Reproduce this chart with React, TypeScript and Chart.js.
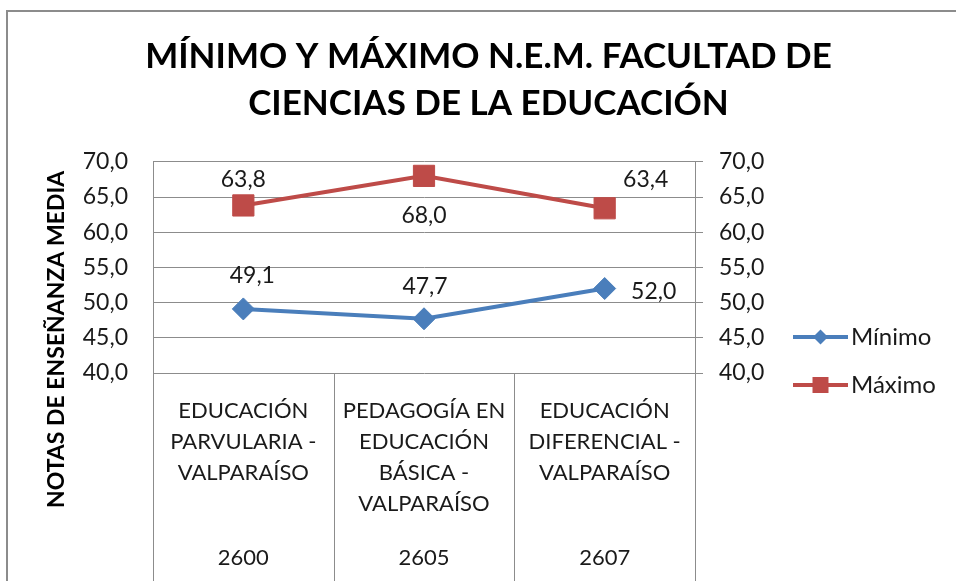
import React, { useEffect, useRef } from 'react';
import { Chart, registerables } from 'chart.js';

Chart.register(...registerables);

// ---- Data ----
const categories: string[][] = [
  ['EDUCACIÓN', 'PARVULARIA -', 'VALPARAÍSO'],
  ['PEDAGOGÍA EN', 'EDUCACIÓN', 'BÁSICA -', 'VALPARAÍSO'],
  ['EDUCACIÓN', 'DIFERENCIAL -', 'VALPARAÍSO'],
];
const codes: string[] = ['2600', '2605', '2607'];
const minimo: number[] = [49.1, 47.7, 52.0];
const maximo: number[] = [63.8, 68.0, 63.4];
const seriesNames: string[] = ['Mínimo', 'Máximo'];
const yMin = 40;
const yMax = 70;
const yStep = 5;
const titleLines: string[] = ['MÍNIMO Y MÁXIMO N.E.M. FACULTAD DE', 'CIENCIAS DE LA EDUCACIÓN'];
const yAxisTitle = 'NOTAS DE ENSEÑANZA MEDIA';

// label offsets (pixels) per point, kept apart from the data
const minLabelOffsets: number[][] = [[9, -33], [1, -32], [49, 3]];
const maxLabelOffsets: number[][] = [[0, -26], [0, 40], [41, -29]];

// ---- Styles ----
const FONT = 'Lato';
const BLUE = '#4a7ebb';
const RED = '#be4b48';
const GRID = '#8c8c8c';
const TEXT = '#1a1a1a';

const fmt = (v: number) => v.toFixed(1).replace('.', ',');

const borderPlugin = {
  id: 'outerBorder',
  beforeDraw(chart: any) {
    const { ctx, width, height } = chart;
    ctx.save();
    ctx.fillStyle = '#ffffff';
    ctx.fillRect(0, 0, width, height);
    ctx.strokeStyle = GRID;
    ctx.lineWidth = 2;
    ctx.strokeRect(7, 11, width + 20, height + 20);
    ctx.restore();
  },
};

const dividerPlugin = {
  id: 'dividers',
  afterDraw(chart: any) {
    const { ctx, chartArea, height } = chart;
    const xs = chart.scales.x;
    const n = categories.length;
    const half = (xs.getPixelForValue(1) - xs.getPixelForValue(0)) / 2;
    ctx.save();
    ctx.strokeStyle = GRID;
    ctx.lineWidth = 1;
    for (let i = 0; i <= n; i++) {
      const px = i < n ? xs.getPixelForValue(i) - half : xs.getPixelForValue(n - 1) + half;
      const x = Math.round(px) + 0.5;
      ctx.beginPath();
      ctx.moveTo(x, chartArea.bottom);
      ctx.lineTo(x, height);
      ctx.stroke();
    }
    ctx.restore();
  },
};

const yTitlePlugin = {
  id: 'yTitle',
  afterDraw(chart: any) {
    const { ctx, chartArea, height } = chart;
    ctx.save();
    ctx.translate(57, (chartArea.top + height) / 2 - 32);
    ctx.rotate(-Math.PI / 2);
    ctx.font = `bold 23px ${FONT}`;
    ctx.fillStyle = '#000';
    ctx.textAlign = 'center';
    ctx.textBaseline = 'middle';
    ctx.fillText(yAxisTitle, 0, 0);
    ctx.restore();
  },
};

const dataLabelPlugin = {
  id: 'dataLabels',
  afterDatasetsDraw(chart: any) {
    const { ctx } = chart;
    const offsets = [minLabelOffsets, maxLabelOffsets];
    ctx.save();
    ctx.font = `23px ${FONT}`;
    ctx.fillStyle = TEXT;
    ctx.textAlign = 'center';
    ctx.textBaseline = 'middle';
    chart.data.datasets.forEach((ds: any, di: number) => {
      const meta = chart.getDatasetMeta(di);
      meta.data.forEach((pt: any, i: number) => {
        const off = offsets[di][i];
        ctx.fillText(fmt(ds.data[i]), pt.x + off[0], pt.y + off[1]);
      });
    });
    ctx.restore();
  },
};

const legendPlugin = {
  id: 'customLegend',
  afterDraw(chart: any) {
    const { ctx, chartArea } = chart;
    const x0 = chartArea.right + 98;
    const len = 55;
    ctx.save();
    chart.data.datasets.forEach((ds: any, i: number) => {
      const y = chartArea.bottom - 36 + i * 48;
      ctx.strokeStyle = ds.borderColor;
      ctx.lineWidth = 4;
      ctx.beginPath();
      ctx.moveTo(x0, y);
      ctx.lineTo(x0 + len, y);
      ctx.stroke();
      const cx = x0 + len / 2;
      ctx.fillStyle = ds.borderColor;
      ctx.beginPath();
      if (ds.pointStyle === 'rectRot') {
        const r = 7.5;
        ctx.moveTo(cx, y - r);
        ctx.lineTo(cx + r, y);
        ctx.lineTo(cx, y + r);
        ctx.lineTo(cx - r, y);
        ctx.closePath();
      } else {
        ctx.rect(cx - 8, y - 8, 16, 16);
      }
      ctx.fill();
      ctx.font = `24px ${FONT}`;
      ctx.fillStyle = TEXT;
      ctx.textAlign = 'left';
      ctx.textBaseline = 'middle';
      ctx.fillText(ds.label, x0 + len + 3, y);
    });
    ctx.restore();
  },
};

export default function App() {
  const ref = useRef<HTMLCanvasElement | null>(null);

  useEffect(() => {
    if (!ref.current) return;
    const tickFont = { family: FONT, size: 23 };
    const chart = new Chart(ref.current, {
      type: 'line',
      data: {
        labels: categories,
        datasets: [
          {
            label: seriesNames[0],
            data: minimo,
            borderColor: BLUE,
            backgroundColor: BLUE,
            borderWidth: 4,
            pointStyle: 'rectRot',
            pointRadius: 11,
            pointBorderWidth: 1,
            pointBackgroundColor: BLUE,
            pointBorderColor: BLUE,
            tension: 0,
            xAxisID: 'x',
            yAxisID: 'y',
          },
          {
            label: seriesNames[1],
            data: maximo,
            borderColor: RED,
            backgroundColor: RED,
            borderWidth: 4,
            pointStyle: 'rect',
            pointRadius: 15,
            pointBorderWidth: 1,
            pointBackgroundColor: RED,
            pointBorderColor: RED,
            tension: 0,
            xAxisID: 'x',
            yAxisID: 'y',
          },
        ],
      },
      options: {
        responsive: false,
        animation: false,
        events: [],
        layout: { padding: { top: 12, left: 21, right: 0, bottom: 0 } },
        plugins: {
          legend: { display: false },
          tooltip: { enabled: false },
          title: {
            display: true,
            text: titleLines,
            color: '#000',
            font: { family: FONT, size: 35, weight: 'bold', lineHeight: 1.34 },
            padding: { top: 21, bottom: 35 },
          },
        },
        scales: {
          x: {
            type: 'category',
            position: 'bottom',
            offset: true,
            weight: 0,
            grid: { display: false },
            border: { display: false },
            ticks: {
              font: { family: FONT, size: 22, lineHeight: 1.41 },
              color: TEXT,
              padding: 14,
              maxRotation: 0,
              minRotation: 0,
              autoSkip: false,
            },
            afterFit: (s: any) => { s.height = 160; },
          },
          x2: {
            type: 'category',
            position: 'bottom',
            labels: codes,
            offset: true,
            weight: 5,
            grid: { display: false },
            border: { display: false },
            ticks: {
              font: { family: FONT, size: 22, lineHeight: 1.41 },
              color: TEXT,
              padding: 1,
              maxRotation: 0,
              minRotation: 0,
              autoSkip: false,
            },
            afterFit: (s: any) => { s.height = 48; },
          },
          y: {
            position: 'left',
            min: yMin,
            max: yMax,
            grid: { color: GRID, lineWidth: 1, drawTicks: false },
            border: { display: true, color: GRID, width: 1 },
            ticks: {
              stepSize: yStep,
              font: tickFont,
              color: TEXT,
              padding: 25,
              callback: (v: any) => fmt(Number(v)),
            },
            afterFit: (s: any) => { s.width = 132; },
          },
          y1: {
            position: 'right',
            min: yMin,
            max: yMax,
            grid: { color: GRID, lineWidth: 1, drawOnChartArea: false, drawTicks: true, tickLength: 8 },
            border: { display: true, color: GRID, width: 1 },
            ticks: {
              stepSize: yStep,
              font: tickFont,
              color: TEXT,
              padding: 16,
              callback: (v: any) => fmt(Number(v)),
            },
            afterFit: (s: any) => { s.width = 261; },
          },
        },
      },
      plugins: [borderPlugin, dividerPlugin, yTitlePlugin, dataLabelPlugin, legendPlugin],
    } as any);
    return () => chart.destroy();
  }, []);

  return (
    <div style={{ position: 'fixed', left: 0, top: 0, width: 956, height: 581, background: '#fff' }}>
      <canvas ref={ref} width={956} height={581} style={{ display: 'block' }} />
    </div>
  );
}
